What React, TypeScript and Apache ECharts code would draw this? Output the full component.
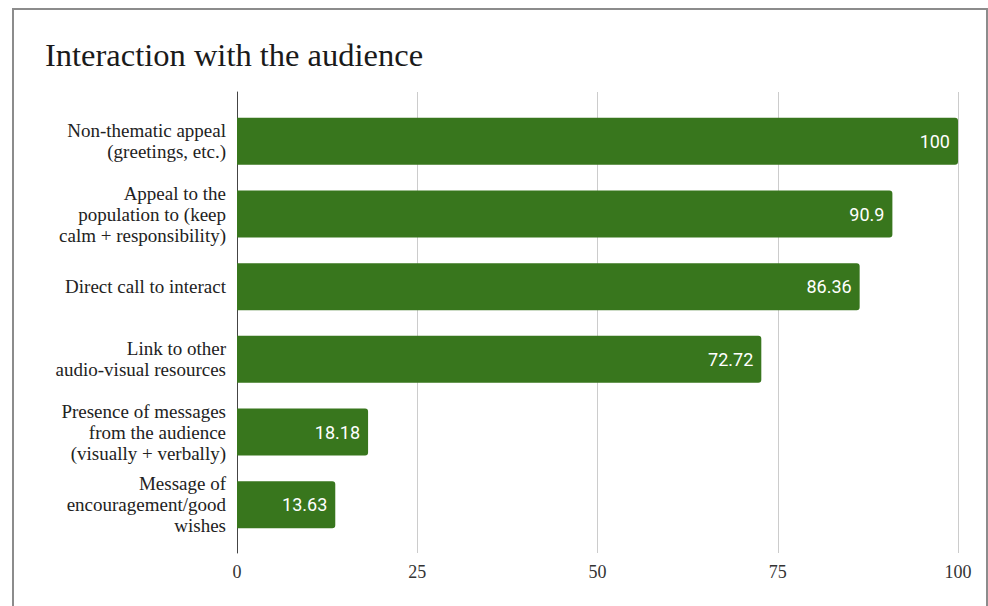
import React, { useEffect, useRef } from "react";
import * as echarts from "echarts";

const title = "Interaction with the audience";
const categories = [
  "Non-thematic appeal\n(greetings, etc.)",
  "Appeal to the\npopulation to (keep\ncalm + responsibility)",
  "Direct call to interact",
  "Link to other\naudio-visual resources",
  "Presence of messages\nfrom the audience\n(visually + verbally)",
  "Message of\nencouragement/good\nwishes",
];
const values = [100, 90.9, 86.36, 72.72, 18.18, 13.63];
const xMin = 0;
const xMax = 100;
const xInterval = 25;

const SERIF = "'Liberation Serif', 'Times New Roman', 'DejaVu Serif', serif";

export default function App() {
  const ref = useRef<HTMLDivElement>(null);
  useEffect(() => {
    if (!ref.current) return;
    const chart = echarts.init(ref.current, undefined, { renderer: "svg" });
    chart.setOption({
      animation: false,
      backgroundColor: "#ffffff",
      title: {
        text: title,
        left: 40,
        top: 33,
        textStyle: {
          fontFamily: SERIF,
          fontSize: 32.5,
          fontWeight: "normal",
          color: "#1a1a1a",
        },
      },
      grid: [
        { left: 237, width: 721, top: 92, height: 461 },
        { left: 237, width: 721, top: 105, height: 436 },
      ],
      xAxis: [
        {
          type: "value",
          gridIndex: 0,
          min: xMin,
          max: xMax,
          interval: xInterval,
          axisLine: { show: false },
          axisTick: { show: false },
          axisLabel: {
            fontFamily: SERIF,
            fontSize: 18,
            color: "#333333",
            margin: 10,
          },
          splitLine: { show: true, lineStyle: { color: "#cccccc", width: 1 } },
        },
        {
          type: "value",
          gridIndex: 1,
          min: xMin,
          max: xMax,
          show: false,
        },
      ],
      yAxis: [
        {
          type: "value",
          gridIndex: 0,
          min: 0,
          max: 1,
          axisLine: { show: true, lineStyle: { color: "#444444", width: 1 } },
          axisTick: { show: false },
          axisLabel: { show: false },
          splitLine: { show: false },
        },
        {
          type: "category",
          gridIndex: 1,
          data: categories,
          inverse: true,
          axisLine: { show: false },
          axisTick: { show: false },
          axisLabel: {
            fontFamily: SERIF,
            fontSize: 19,
            lineHeight: 21,
            color: "#222222",
            margin: 11,
            align: "right",
          },
        },
      ],
      series: [
        {
          type: "bar",
          xAxisIndex: 1,
          yAxisIndex: 1,
          data: values,
          barWidth: 47,
          itemStyle: { color: "#38761d", borderRadius: [0, 3, 3, 0] },
          label: {
            show: true,
            position: "insideRight",
            distance: 8,
            color: "#ffffff",
            fontFamily: "Roboto, 'Noto Sans', sans-serif",
            fontSize: 18,
          },
        },
      ],
    });
    return () => chart.dispose();
  }, []);
  return (
    <div style={{ position: "fixed", left: 0, top: 0, width: 988, height: 606, overflow: "hidden", background: "#fff" }}>
      <div ref={ref} style={{ position: "absolute", left: 0, top: 0, width: 988, height: 606 }} />
      <div
        style={{
          position: "absolute",
          left: 12,
          top: 8,
          width: 972,
          height: 640,
          border: "2px solid #8c8c8c",
          pointerEvents: "none",
        }}
      />
    </div>
  );
}
